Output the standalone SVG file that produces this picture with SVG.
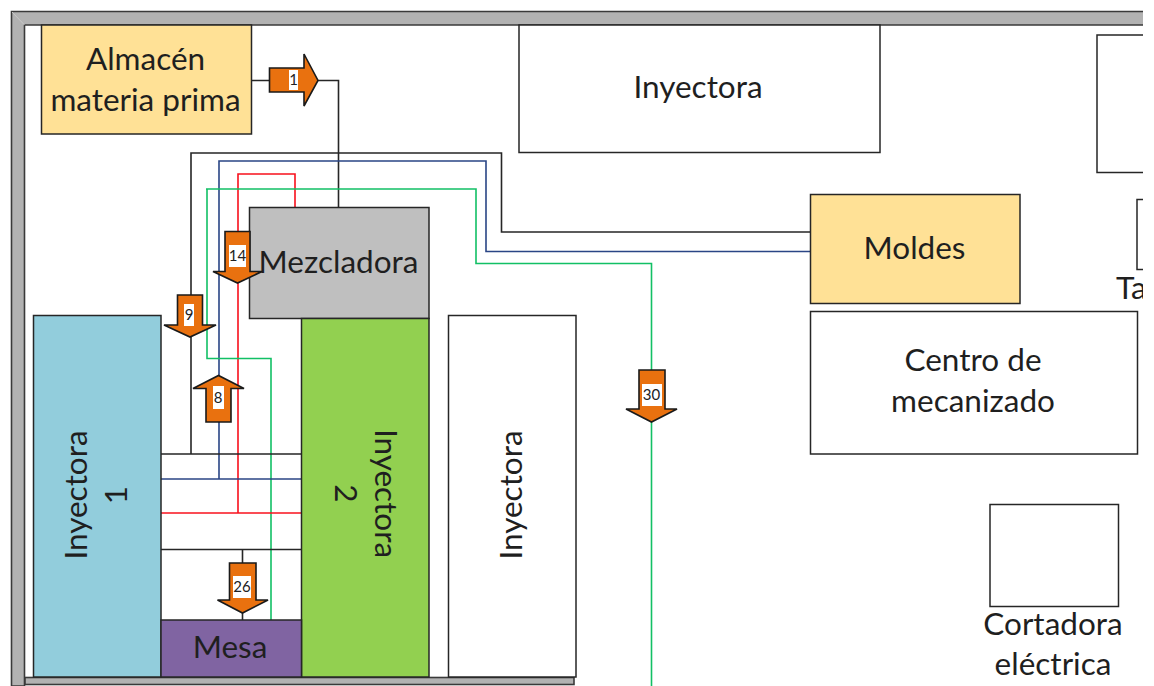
<svg xmlns="http://www.w3.org/2000/svg" width="1154" height="686" viewBox="0 0 1154 686">
<style>
.b{stroke:#262626;stroke-width:1.5;fill:#fff}
.t{font-family:Lato,"Open Sans",sans-serif;font-size:31.500px;fill:#1f1f1f;text-anchor:middle}
.n{font-family:Lato,"Open Sans",sans-serif;font-size:15px;fill:#222;text-anchor:middle}
.c{fill:none;stroke-width:1.6}
.k{stroke:#262626}.u{stroke:#2a4585}.r{stroke:#f8101c}.g{stroke:#12c065}
.a{fill:#E9710F;stroke:#1a1a1a;stroke-width:1.6;stroke-linejoin:miter}
.w{fill:#b2b2b2;stroke:#3a3a3a;stroke-width:1.6}
.l{fill:#fff}
</style>
<defs><clipPath id="v"><rect x="0" y="0" width="1143" height="686"/></clipPath></defs>
<rect width="1154" height="686" fill="#fff"/>
<g clip-path="url(#v)">
<g id="walls">
<path class="w" d="M11.500 11.500H1160V25H24.500V686H11.500Z"/>
<path d="M12 12L24.500 25" stroke="#c8c8c8" stroke-width="1" fill="none"/>
<rect class="w" x="25" y="677.500" width="549" height="7"/>
</g>
<g id="connectors">
<path class="c k" d="M251 80.500H338.500V207"/>
<path class="c k" d="M191 454V153H501.500V232H810"/>
<path class="c u" d="M219 479V161H486V251.500H810"/>
<path class="c r" d="M238 513V174H295V207"/>
<path class="c g" d="M206 189H476V263.500H651.500V686"/>
<path class="c g" d="M207 189V358.500H271V620"/>
<path class="c k" d="M161 454H301M161 549.500H301M242.500 549.500V620"/>
<path class="c u" d="M161 479H301"/>
<path class="c r" d="M161 513H301"/>
</g>
<g id="almacen"><rect class="b" x="41.500" y="25" width="210" height="109" style="fill:#FFE196"/><text class="t" x="145.500" y="70">Almacén</text><text class="t" x="145.500" y="111">materia prima</text></g>
<g id="inyectora-top"><rect class="b" x="519" y="25" width="361" height="127.500"/><text class="t" x="698" y="98">Inyectora</text></g>
<g id="box-right-1"><rect class="b" x="1097" y="35" width="70" height="137.500"/></g>
<g id="box-right-2"><rect class="b" x="1137" y="199.500" width="40" height="70"/></g>
<g id="label-ta"><text class="t" x="1116" y="299" style="text-anchor:start">Ta</text></g>
<g id="moldes"><rect class="b" x="810.500" y="194.500" width="209.500" height="109" style="fill:#FFE196"/><text class="t" x="914.500" y="259">Moldes</text></g>
<g id="centro"><rect class="b" x="810.500" y="311.500" width="327" height="142.500"/><text class="t" x="973" y="371">Centro de</text><text class="t" x="973" y="412">mecanizado</text></g>
<g id="cortadora"><rect class="b" x="990" y="504.500" width="128.500" height="102"/><text class="t" x="1053" y="635">Cortadora</text><text class="t" x="1053" y="675">eléctrica</text></g>
<g id="mezcladora"><rect class="b" x="249.500" y="207.500" width="179.500" height="111" style="fill:#BFBFBF"/><text class="t" x="338.500" y="273">Mezcladora</text></g>
<g id="inyectora1"><rect class="b" x="33.500" y="315.500" width="127.500" height="361.500" style="fill:#92CDDC"/><text class="t" transform="translate(87 495) rotate(-90)">Inyectora</text><text class="t" transform="translate(127 495) rotate(-90)">1</text></g>
<g id="inyectora2"><rect class="b" x="301.500" y="318.500" width="127.500" height="358.500" style="fill:#92D050"/><text class="t" transform="translate(375 493.500) rotate(90)">Inyectora</text><text class="t" transform="translate(335 493.500) rotate(90)">2</text></g>
<g id="inyectora3"><rect class="b" x="448.500" y="315.500" width="127.500" height="361.500"/><text class="t" transform="translate(522 495) rotate(-90)">Inyectora</text></g>
<g id="mesa"><rect class="b" x="161" y="620" width="140.500" height="57" style="fill:#8064A2"/><text class="t" x="230" y="658">Mesa</text></g>
<g id="arrow-1"><path class="a" d="M269.500 68H304V54L318 80.500 304 106V92H269.500Z"/><rect class="l" x="289" y="70" width="9" height="20"/><text class="n" x="293.500" y="85">1</text></g>
<g id="arrow-14"><path class="a" d="M225 231.500H250V271.500H262L237.500 283 213 271.500H225Z"/><rect class="l" x="229" y="245" width="17" height="22"/><text class="n" x="237.500" y="261">14</text></g>
<g id="arrow-9"><path class="a" d="M177.500 295H202.500V325H216L190 337 164 325H177.500Z"/><rect class="l" x="184" y="304" width="10" height="22"/><text class="n" x="189" y="320">9</text></g>
<g id="arrow-8"><path class="a" d="M206 422V388.500H193L218.500 375.500 244 388.500H231V422Z"/><rect class="l" x="213" y="386" width="11" height="23"/><text class="n" x="218" y="403">8</text></g>
<g id="arrow-26"><path class="a" d="M229.500 563H256V600H268L242.500 613 217.500 600H229.500Z"/><rect class="l" x="233" y="576" width="18" height="22"/><text class="n" x="242" y="592">26</text></g>
<g id="arrow-30"><path class="a" d="M639 370H665V409H677L651.500 422 626 409H639Z"/><rect class="l" x="642" y="384" width="20" height="22"/><text class="n" x="651.500" y="400">30</text></g>
</g>
</svg>
